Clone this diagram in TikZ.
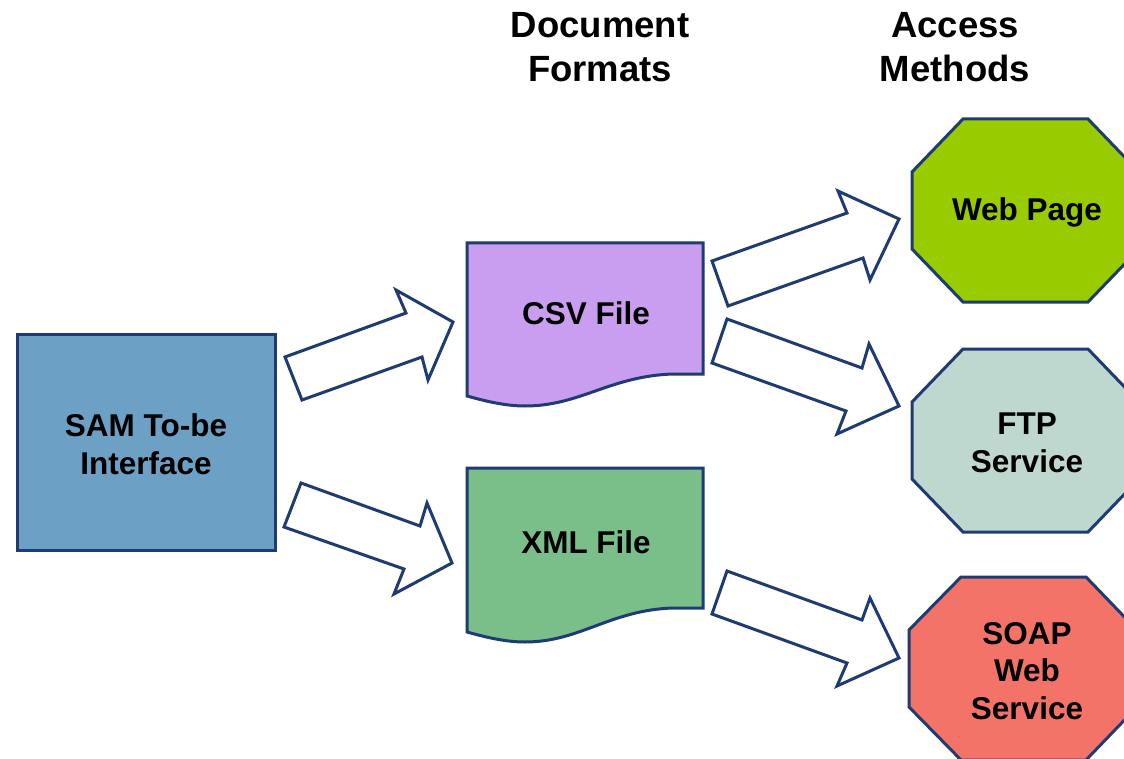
\documentclass[tikz,border=0pt]{standalone}
\usepackage{fontspec}
\setmainfont{Liberation Sans}
\definecolor{navy}{HTML}{1F3B73}
\definecolor{samfill}{HTML}{6CA0C4}
\definecolor{csvfill}{HTML}{C99DF0}
\definecolor{xmlfill}{HTML}{7ABF89}
\definecolor{webfill}{HTML}{99CC00}
\definecolor{ftpfill}{HTML}{BED8D0}
\definecolor{soapfill}{HTML}{F47368}
\tikzset{
  shapeline/.style={draw=navy, line width=3pt, line join=miter},
  blockarrow/.style={draw=navy, line width=3pt, fill=white, line join=miter},
  body/.style={font=\fontsize{31.5}{37.8}\selectfont\bfseries, align=center, inner sep=0pt},
  heading/.style={font=\fontsize{36.5}{44}\selectfont\bfseries, align=center, inner sep=0pt},
}
\begin{document}
\begin{tikzpicture}[x=1pt,y=-1pt]
\useasboundingbox (0,0) rectangle (1124,759);
\clip (0,0) rectangle (1124,759);
\fill[white] (0,0) rectangle (1124,759);

% headings
\node[heading] (hdoc) at (600,47) {Document\\Formats};
\node[heading] (hacc) at (955,47) {Access\\Methods};

% SAM box
\draw[shapeline, fill=samfill] (17,334) rectangle (275,550);
\node[body] (sam) at (146,444) {SAM To-be\\Interface};

% CSV document
\draw[shapeline, fill=csvfill] (467,243) -- (703,243) -- (703,374) -- (673,374)
  .. controls (610,376) and (580,406) .. (525,406)
  .. controls (505,406) and (485,401) .. (467,396) -- cycle;
\node[body] (csv) at (586,313) {CSV File};

% XML document
\draw[shapeline, fill=xmlfill] (467,468) -- (703,468) -- (703,608) -- (673,608)
  .. controls (610,610) and (580,642) .. (525,642)
  .. controls (505,642) and (485,637) .. (467,632) -- cycle;
\node[body] (xml) at (586,542) {XML File};

% octagons
\draw[shapeline, fill=webfill] (963,119) -- (1088,119) -- (1139,172) -- (1139,249)
  -- (1088,302) -- (963,302) -- (912,249) -- (912,172) -- cycle;
\node[body] (web) at (1027,212) {Web Page};

\draw[shapeline, fill=ftpfill] (963,349) -- (1088,349) -- (1139,402) -- (1139,479)
  -- (1088,532) -- (963,532) -- (912,479) -- (912,402) -- cycle;
\node[body] (ftp) at (1027,443) {FTP\\Service};

\draw[shapeline, fill=soapfill] (961,577) -- (1086,577) -- (1137,630) -- (1137,707)
  -- (1086,760) -- (961,760) -- (909,707) -- (909,630) -- cycle;
\node[body] (soap) at (1027,671) {SOAP\\Web\\Service};

% block arrows
\draw[blockarrow] (285,357) -- (406,313) -- (396,290) -- (453,322) -- (428,380) -- (422,357) -- (302,400) -- cycle;
\draw[blockarrow] (301,483) -- (420,526) -- (427,503) -- (452,563) -- (394,594) -- (404,569) -- (284,527) -- cycle;
\draw[blockarrow] (712,261) -- (847,213) -- (838,191) -- (899,219) -- (870,280) -- (863,258) -- (728,306) -- cycle;
\draw[blockarrow] (727,319) -- (862,368) -- (869,344) -- (899,406) -- (837,434) -- (846,411) -- (712,363) -- cycle;
\draw[blockarrow] (727,571) -- (862,620) -- (870,598) -- (899,658) -- (837,686) -- (847,663) -- (712,614) -- cycle;
\end{tikzpicture}
\end{document}
